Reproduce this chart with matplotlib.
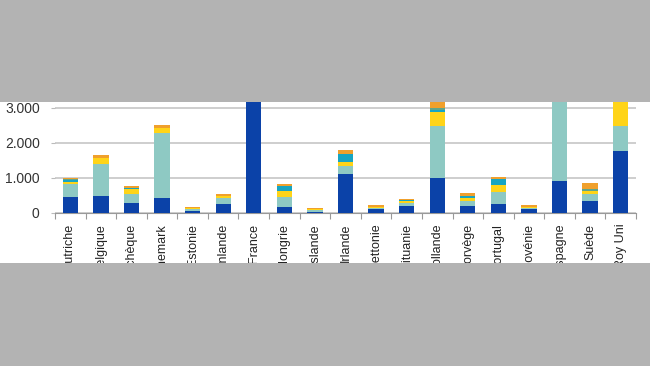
import matplotlib
matplotlib.use("Agg")
import matplotlib.pyplot as plt
from matplotlib.patches import Rectangle
from matplotlib.ticker import FuncFormatter
import numpy as np

plt.rcParams['font.family'] = ['Liberation Sans', 'DejaVu Sans']

countries = ["Autriche", "Belgique", "Tchèque", "Danemark", "Estonie", "Finlande",
             "France", "Hongrie", "Islande", "Irlande", "Lettonie", "Lituanie",
             "Hollande", "Norvège", "Portugal", "Slovénie", "Espagne", "Suède", "Roy Uni"]

s_blue   = [460, 490, 275, 415, 60, 245, 5000, 155, 30, 1105, 110, 200, 980, 200, 245, 105, 915, 340, 1765]
s_teal   = [360, 900, 265, 1860, 40, 170, 0, 305, 50, 225, 30, 90, 1510, 120, 340, 40, 3000, 190, 700]
s_yellow = [70, 160, 130, 140, 30, 65, 0, 160, 15, 115, 30, 40, 380, 95, 205, 20, 0, 75, 1500]
s_cyan   = [40, 0, 25, 0, 0, 0, 0, 145, 0, 245, 0, 20, 70, 65, 180, 0, 0, 0, 0]
s_green  = [30, 0, 20, 0, 0, 0, 0, 0, 0, 0, 0, 0, 45, 0, 0, 0, 0, 65, 0]
s_orange = [40, 110, 50, 95, 40, 50, 0, 50, 35, 95, 55, 40, 265, 75, 60, 60, 0, 170, 0]

series = [s_blue, s_teal, s_yellow, s_cyan, s_green, s_orange]
colors = ["#0b42a8", "#8ec9c3", "#ffd418", "#17a5c2", "#5fa58a", "#f0a02c"]

fig = plt.figure(figsize=(6.5, 3.66), dpi=100)
fig.patch.set_facecolor("white")
ax = fig.add_axes([55/650, 0.419, (636-55)/650, 0.3154])

x = np.arange(len(countries))
bottom = np.zeros(len(countries))
for vals, c in zip(series, colors):
    v = np.array(vals, dtype=float)
    ax.bar(x, v, width=0.5, bottom=bottom, color=c, edgecolor="none", zorder=3)
    bottom += v

ax.set_yticks([0, 1000, 2000, 3000])
ax.yaxis.set_major_formatter(FuncFormatter(lambda v, p: f"{int(v):,}".replace(",", ".")))
ax.set_xlim(-0.5, len(countries) - 0.5)
ax.set_ylim(0, 3300)
ax.grid(axis="y", color="#c6c6c6", linewidth=1.2, zorder=0)
ax.set_xticks(x)
ax.set_xticklabels(countries, rotation=90, fontsize=9, color="#222222", va="top", ha="center")
ax.set_xticks(np.arange(-0.5, len(countries)), minor=True)
ax.tick_params(axis="x", which="major", length=0, pad=8)
ax.tick_params(axis="x", which="minor", length=4.5, color="#999999", width=0.8)
ax.tick_params(axis="y", length=3, color="#bbbbbb", labelsize=10, labelcolor="#333333", pad=8)
for s in ["top", "right", "left"]:
    ax.spines[s].set_visible(False)
ax.spines["bottom"].set_color("#999999")
ax.spines["bottom"].set_linewidth(0.8)

gray = "#b3b3b3"
fig.add_artist(Rectangle((0, 1 - 102/366), 1, 102/366, transform=fig.transFigure,
                         facecolor=gray, edgecolor="none", zorder=20))
fig.add_artist(Rectangle((0, 0), 1, (366-263)/366, transform=fig.transFigure,
                         facecolor=gray, edgecolor="none", zorder=20))

fig.savefig("out.png", dpi=100, facecolor=fig.get_facecolor())
